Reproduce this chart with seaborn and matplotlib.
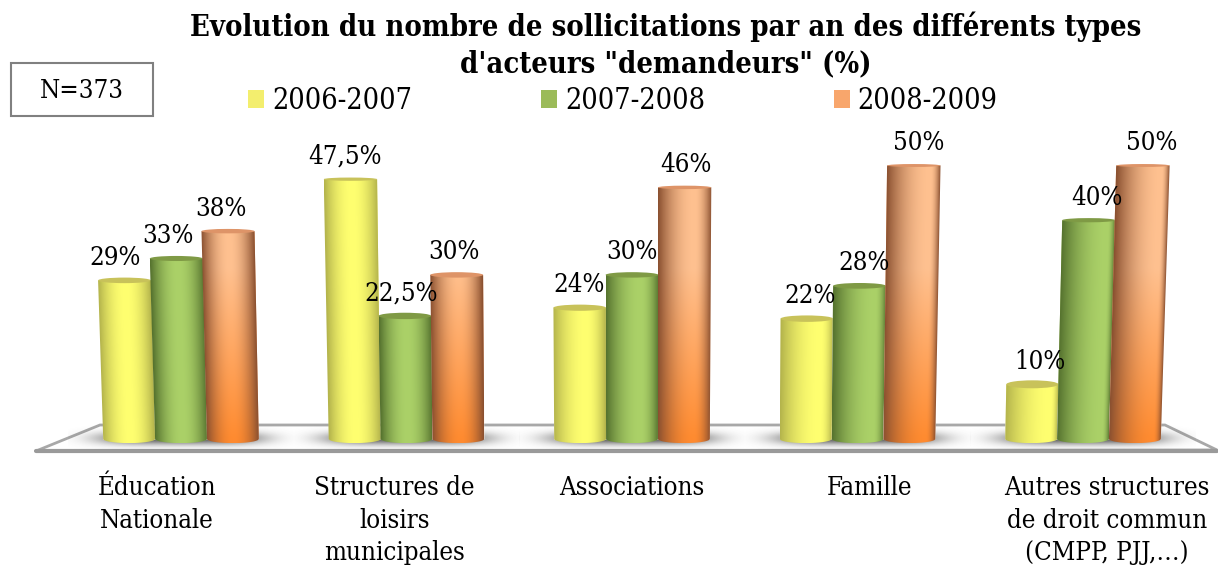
import numpy as np
import pandas as pd
import matplotlib
matplotlib.use("Agg")
import matplotlib.pyplot as plt
import seaborn as sns
from matplotlib.colors import to_rgb
from matplotlib.patches import Ellipse, Polygon, Rectangle
from matplotlib.transforms import ScaledTranslation

categories = ["Éducation\nNationale", "Structures de\nloisirs\nmunicipales", "Associations",
              "Famille", "Autres structures\nde droit commun\n(CMPP, PJJ,…)"]
series_names = ["2006-2007", "2007-2008", "2008-2009"]
values_2006 = [29, 47.5, 24, 22, 10]
values_2007 = [33, 22.5, 30, 28, 40]
values_2008 = [38, 30, 46, 50, 50]
title = "Evolution du nombre de sollicitations par an des différents types\nd'acteurs \"demandeurs\" (%)"
note = "N=373"

W, H = 1218, 566
df = pd.DataFrame({
    "cat": categories * 3,
    "serie": [s for s in series_names for _ in categories],
    "val": values_2006 + values_2007 + values_2008,
})

sns.set_theme(style="white")
plt.rcParams["font.family"] = ["DejaVu Serif", "Liberation Serif"]
plt.rcParams["font.stretch"] = "condensed"

fig = plt.figure(figsize=(W / 100, H / 100), dpi=100, facecolor="white")
y_low, y_high = -2, 55
ppu = 5.47
ax_top = 439 - y_high * ppu
ax_bot = 439 - y_low * ppu
ax_l, ax_r = 68.25, 1195.75
ax = fig.add_axes([ax_l / W, 1 - ax_bot / H, (ax_r - ax_l) / W, (ax_bot - ax_top) / H])
ax.set_facecolor("none")
ax.set_zorder(2)

legend_cols = ["#F3EE6E", "#9BBB59", "#F8A66C"]
sns.barplot(data=df, x="cat", y="val", hue="serie", order=categories, hue_order=series_names,
            palette=legend_cols, width=0.69, gap=0, dodge=True, saturation=1, ax=ax, legend=False)
ax.set_xlim(-0.5, 4.5)
ax.set_ylim(y_low, y_high)
ax.set_xlabel("")
ax.set_ylabel("")
ax.set_yticks([])
sns.despine(ax=ax, left=True, bottom=True)
ax.tick_params(axis="x", length=0, pad=18, labelsize=18.5, colors="black")
for lab in ax.get_xticklabels():
    lab.set_linespacing(1.38)
for lab, dx in zip(ax.get_xticklabels(), [-24, -12, 0, 12, 24]):
    lab.set_transform(lab.get_transform() + ScaledTranslation(dx / 100, 0, fig.dpi_scale_trans))


def P(x, y):
    return (x / W, 1 - y / H)


floor = Polygon([P(36, 451), P(100, 425), P(1165, 425), P(1217, 450)], closed=True, transform=fig.transFigure,
                facecolor="white", edgecolor="#A8A8A8", lw=2.0, zorder=0.5)
fig.add_artist(floor)
front = plt.Line2D([36 / W, 1217 / W], [1 - 451 / H, 1 - 451 / H], transform=fig.transFigure, color="#9A9A9A", lw=3,
                   zorder=0.6)
fig.add_artist(front)

gx = np.linspace(-0.5, 0.5, 240)
gy = np.linspace(-2.0, 2.6, 70)
X, Y = np.meshgrid(gx, gy)
for i in range(len(categories)):
    a = np.exp(-(np.abs(X / 0.37) ** 4) - (np.abs((Y - 0.1) / 1.15) ** 2))
    rgba = np.zeros(a.shape + (4,))
    rgba[..., :3] = 0.25
    rgba[..., 3] = 0.85 * a
    ax.imshow(rgba, extent=[i - 0.5, i + 0.5, -2.0, 2.6], origin="lower", aspect="auto", zorder=1,
              interpolation="bilinear")

styles = [
    dict(top="#FFFF70", bot="#FFFF70", edge="#B4B44C", cap="#C8C25A"),
    dict(top="#ABD168", bot="#ABD168", edge="#56732F", cap="#7F9A45"),
    dict(top="#FFC190", bot="#FF8B30", edge="#8A5030", cap="#DE9468"),
]
nx, ny = 90, 90
for s, (cont, st) in enumerate(zip(ax.containers, styles)):
    ctop, cbot, cedge = (np.array(to_rgb(st[c])) for c in ("top", "bot", "edge"))
    for bar in cont:
        x0, w, v = bar.get_x(), bar.get_width(), bar.get_height()
        cx = x0 + w / 2
        shift = (cx - 2) * 0.016 * v / 50
        wtop = w * (1 + 0.03 * v / 50)
        xtc = cx + shift
        ry = 0.84 - 0.0114 * v
        th = np.linspace(np.pi, 2 * np.pi, 30)
        bx = cx + w / 2 * np.cos(th)
        by = 0.75 * np.sin(th)
        tx = np.array([xtc + wtop / 2, xtc - wtop / 2])
        ty = np.array([v, v])
        verts = np.column_stack([np.r_[bx, tx], np.r_[by, ty]])
        clip = Polygon(verts, closed=True, transform=ax.transData)
        xl, xr = min(x0, xtc - wtop / 2), max(x0 + w, xtc + wtop / 2)
        yl, yh = -0.8, v
        xs = np.linspace(xl, xr, nx)
        ys = np.linspace(yl, yh, ny)
        XX, YY = np.meshgrid(xs, ys)
        f = np.clip(YY / v, 0, 1)
        cc = cx + (xtc - cx) * f
        ww = w + (wtop - w) * f
        t = (XX - (cc - ww / 2)) / ww
        t0 = min(0.85, 0.52 + 0.13 * max(0, cx - 1))
        d = np.where(t < t0, (t0 - t) / t0, (t - t0) / (1 - t0))
        mix = np.clip(d, 0, 1) ** 2.0
        g = np.clip(YY / 50 * 1.6, 0, 1)[..., None]
        base = ctop[None, None, :] * g + cbot[None, None, :] * (1 - g)
        img = base * (1 - mix[..., None]) + cedge[None, None, :] * mix[..., None]
        bar.set_zorder(2 + s)
        bar.set_clip_path(clip)
        im = ax.imshow(img, extent=[xl, xr, yl, yh], origin="lower", aspect="auto", zorder=2.1 + s,
                       interpolation="bilinear")
        im.set_clip_path(clip)
        ax.add_patch(Ellipse((xtc, v), wtop, 2 * ry, facecolor=st["cap"], edgecolor="none", zorder=2.2 + s))
    vals = list(cont.datavalues)
    labels = [f"{val:g}%".replace(".", ",") for val in vals]
    anns = ax.bar_label(cont, labels=labels, padding=7.5, fontsize=18.5, color="black")
    for ann, bar, val in zip(anns, cont, vals):
        cx = bar.get_x() + bar.get_width() / 2
        ann.xy = (cx + (cx - 2) * (0.016 * val / 50 + 0.018), val)
        ann.set_zorder(10)
ax.set_xlim(-0.5, 4.5)
ax.set_ylim(y_low, y_high)

handles = [Rectangle((0, 0), 1, 1, facecolor=c, edgecolor="none") for c in legend_cols]
fig.legend(handles, series_names, loc="center", bbox_to_anchor=(623 / W, 1 - 101 / H), ncol=3, frameon=False,
           fontsize=20.6, handlelength=0.56, handleheight=0.56, handletextpad=0.28, columnspacing=4.5,
           labelcolor="black")

fig.suptitle(title, x=666 / W, y=1 - 12 / H, va="top", ha="center", fontsize=20.9, fontweight="bold", color="black",
             linespacing=1.3)

fig.add_artist(Rectangle(P(10.5, 116), 143 / W, 53 / H, transform=fig.transFigure, facecolor="white",
                         edgecolor="#808080", lw=1.5, zorder=3))
fig.text(82 / W, 1 - 91 / H, note, ha="center", va="center", fontsize=18.5, color="black", zorder=4)

fig.savefig("out.png", dpi=100)
